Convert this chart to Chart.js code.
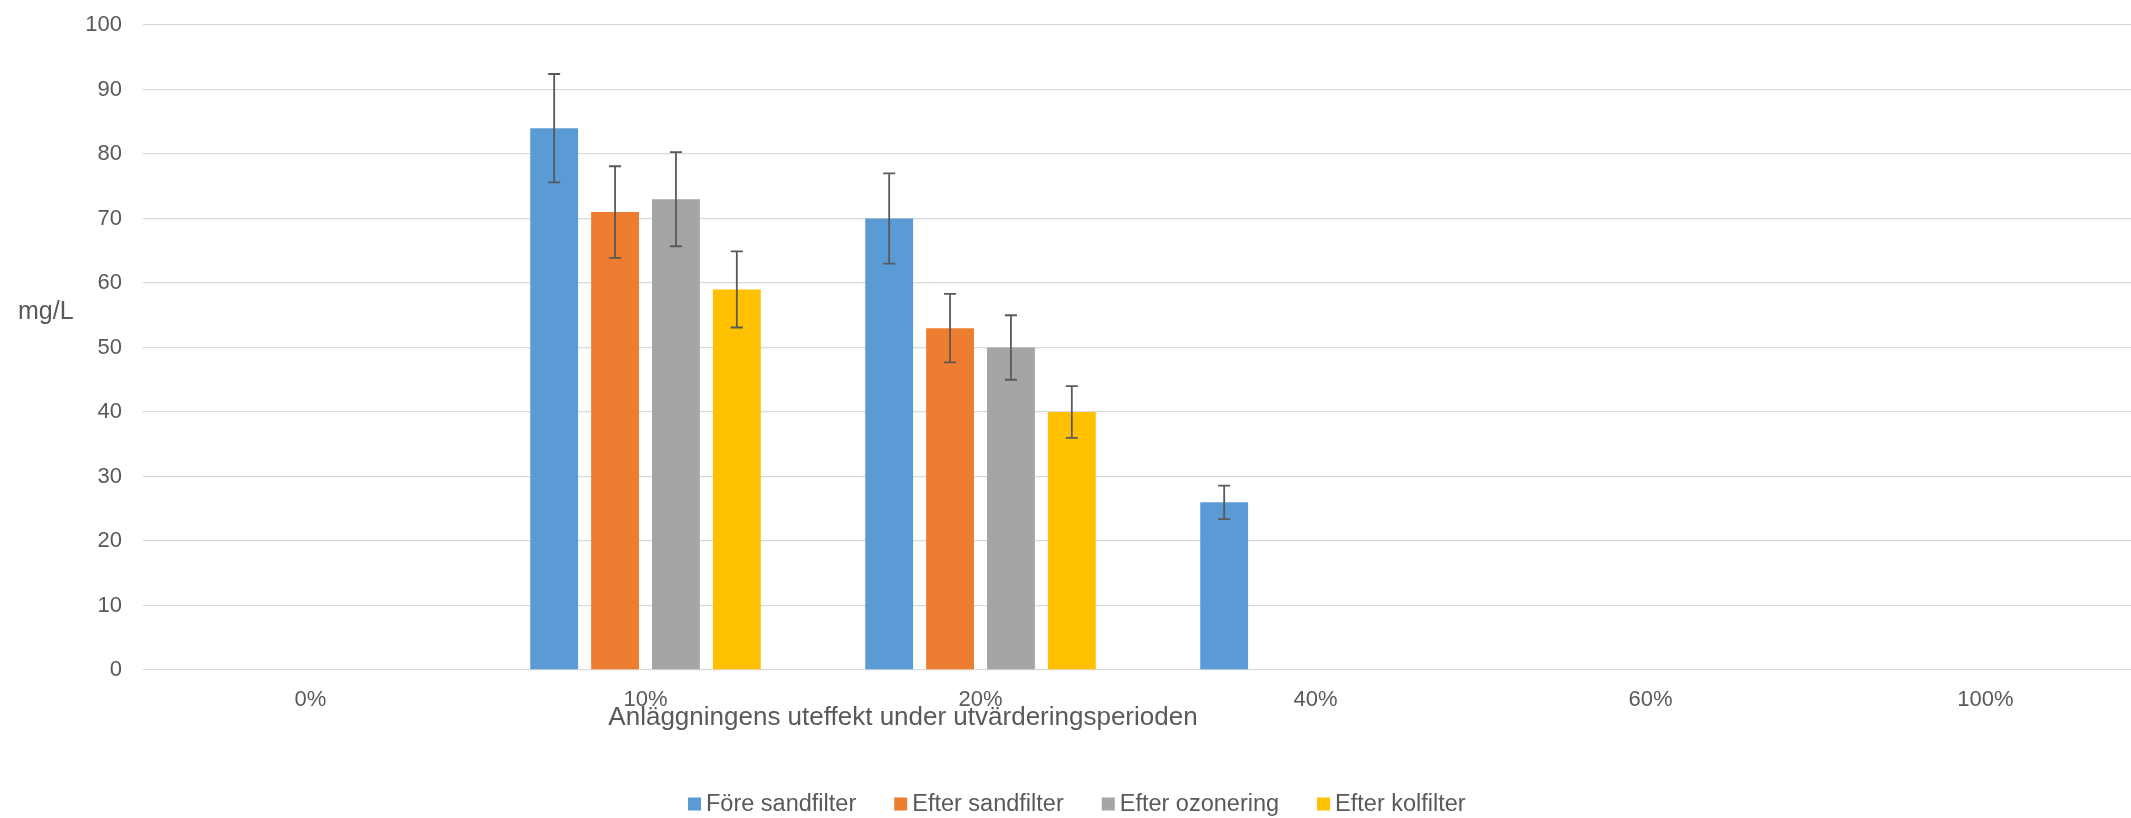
<!DOCTYPE html>
<html lang="sv">
<head>
<meta charset="utf-8">
<title>mg/L per uteffekt</title>
<script src="https://cdn.jsdelivr.net/npm/chart.js@4.4.1/dist/chart.umd.min.js"></script>
<style>
  html, body { margin: 0; padding: 0; background: #fff; overflow: hidden; }
  .chart-box { width: 2160px; height: 818px; position: relative; }
</style>
</head>
<body>
<div class="chart-box">
  <canvas id="chart"></canvas>
</div>
<script>
// data
const categories = ['0%', '10%', '20%', '40%', '60%', '100%'];
const seriesNames = ['Före sandfilter', 'Efter sandfilter', 'Efter ozonering', 'Efter kolfilter'];
const seriesColors = ['#5B9BD5', '#ED7D31', '#A5A5A5', '#FFC000'];

const foreSandfilter = [0, 84, 70, 26, 0, 0];
const efterSandfilter = [0, 71, 53, 0, 0, 0];
const efterOzonering = [0, 73, 50, 0, 0, 0];
const efterKolfilter = [0, 59, 40, 0, 0, 0];

// +/- error bar half lengths
const foreSandfilterErr = [0, 8.4, 7, 2.6, 0, 0];
const efterSandfilterErr = [0, 7.1, 5.3, 0, 0, 0];
const efterOzoneringErr = [0, 7.3, 5, 0, 0, 0];
const efterKolfilterErr = [0, 5.9, 4, 0, 0, 0];

const yMin = 0;
const yMax = 100;
const yStep = 10;

const yTitle = 'mg/L';
const xTitle = 'Anläggningens uteffekt under utvärderingsperioden';

const textColor = '#595959';
const fontFamily = '"Liberation Sans", Arial, sans-serif';

const values = [foreSandfilter, efterSandfilter, efterOzonering, efterKolfilter];
const errors = [foreSandfilterErr, efterSandfilterErr, efterOzoneringErr, efterKolfilterErr];

const datasets = seriesNames.map((name, i) => ({
  label: name,
  data: values[i],
  errors: errors[i],
  backgroundColor: seriesColors[i],
  borderWidth: 0,
  categoryPercentage: 0.727,
  barPercentage: 0.786
}));

// error bars drawn from the y scale
const errorBarPlugin = {
  id: 'errorBars',
  afterDatasetsDraw(chart) {
    const ctx = chart.ctx;
    const yScale = chart.scales.y;
    ctx.save();
    ctx.strokeStyle = '#595959';
    ctx.lineWidth = 1.8;
    chart.data.datasets.forEach((ds, di) => {
      const meta = chart.getDatasetMeta(di);
      meta.data.forEach((bar, i) => {
        const err = ds.errors[i];
        if (!err) return;
        const v = ds.data[i];
        const top = yScale.getPixelForValue(v + err);
        const bottom = yScale.getPixelForValue(v - err);
        const cap = 6;
        ctx.beginPath();
        ctx.moveTo(bar.x, top);
        ctx.lineTo(bar.x, bottom);
        ctx.moveTo(bar.x - cap, top);
        ctx.lineTo(bar.x + cap, top);
        ctx.moveTo(bar.x - cap, bottom);
        ctx.lineTo(bar.x + cap, bottom);
        ctx.stroke();
      });
    });
    ctx.restore();
  }
};

// axis titles and the legend, laid out like the original sheet
const textPlugin = {
  id: 'extraText',
  afterDraw(chart) {
    const ctx = chart.ctx;
    const area = chart.chartArea;
    ctx.save();
    ctx.fillStyle = textColor;
    ctx.textBaseline = 'middle';

    ctx.font = '25px ' + fontFamily;
    ctx.textAlign = 'left';
    ctx.fillText(yTitle, 18, area.top + (area.bottom - area.top) * 0.445);

    ctx.font = '26px ' + fontFamily;
    ctx.textAlign = 'center';
    ctx.fillText(xTitle, 903, area.bottom + 48);

    // legend
    ctx.font = '23.5px ' + fontFamily;
    ctx.textAlign = 'left';
    const legendY = 804;
    const box = 13;
    let x = 688;
    chart.data.datasets.forEach((ds) => {
      ctx.fillStyle = ds.backgroundColor;
      ctx.fillRect(x, legendY - box / 2, box, box);
      ctx.fillStyle = textColor;
      ctx.fillText(ds.label, x + 18, legendY + 1);
      x += 18 + ctx.measureText(ds.label).width + 38;
    });
    ctx.restore();
  }
};

const ctx = document.getElementById('chart').getContext('2d');
new Chart(ctx, {
  type: 'bar',
  data: { labels: categories, datasets: datasets },
  options: {
    responsive: true,
    maintainAspectRatio: false,
    animation: false,
    devicePixelRatio: 1,
    layout: { padding: { top: 25, right: 7, left: 0, bottom: 0 } },
    plugins: {
      legend: { display: false },
      tooltip: { enabled: false }
    },
    scales: {
      x: {
        grid: { display: false },
        border: { display: false },
        ticks: {
          color: textColor,
          font: { family: fontFamily, size: 22 },
          padding: 9,
          maxRotation: 0
        },
        afterFit: (scale) => { scale.height = 148; }
      },
      y: {
        min: yMin,
        max: yMax,
        border: { display: false },
        // invisible tick marks keep the labels off the plot without adding top padding
        grid: { color: '#D9D9D9', lineWidth: 1.3, drawTicks: true, tickLength: 21, tickColor: 'rgba(0,0,0,0)' },
        ticks: {
          stepSize: yStep,
          color: textColor,
          font: { family: fontFamily, size: 22 },
          padding: 0
        },
        afterFit: (scale) => { scale.width = 143; }
      }
    }
  },
  plugins: [errorBarPlugin, textPlugin]
});
</script>
</body>
</html>
